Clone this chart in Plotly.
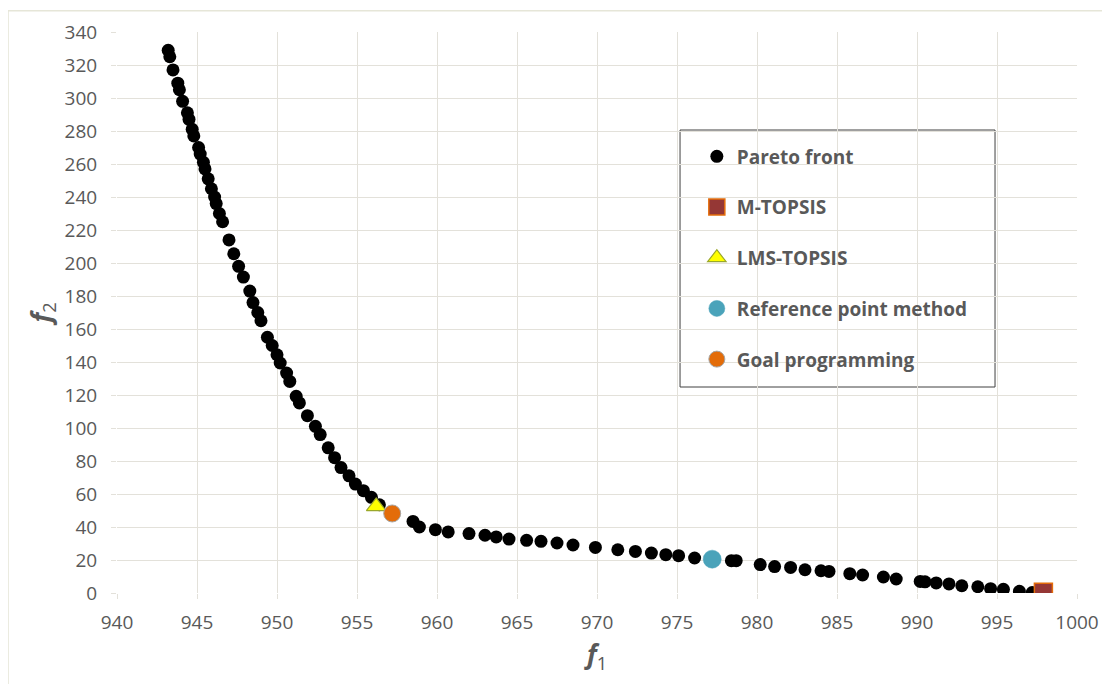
import plotly.graph_objects as go

# Pareto front (f1, f2)
pareto_f1 = [943.2, 943.3, 943.5, 943.8, 943.9, 944.1, 944.4, 944.5, 944.7, 944.8,
             945.1, 945.2, 945.4, 945.5, 945.7, 945.9, 946.1, 946.2, 946.4, 946.6,
             947.0, 947.3, 947.6, 947.9, 948.3, 948.5, 948.8, 949.0, 949.4, 949.7,
             950.0, 950.2, 950.6, 950.8, 951.2, 951.4, 951.9, 952.4, 952.7, 953.2,
             953.6, 954.0, 954.5, 954.9, 955.4, 955.9, 956.4, 958.5, 958.9, 959.9,
             960.7, 962.0, 963.0, 963.7, 964.5, 965.6, 966.5, 967.5, 968.5, 969.9,
             971.3, 972.4, 973.4, 974.3, 975.1, 976.1, 978.4, 978.7, 980.2, 981.1,
             982.1, 983.0, 984.0, 984.5, 985.8, 986.6, 987.9, 988.7, 990.2, 990.5,
             991.2, 992.0, 992.8, 993.8, 994.6, 995.4, 996.4, 997.2]
pareto_f2 = [328.9, 325.0, 317.0, 309.0, 305.0, 298.0, 291.0, 287.0, 281.0, 277.0,
             270.0, 266.0, 261.0, 257.0, 251.0, 245.0, 240.0, 236.0, 230.0, 225.0,
             214.0, 205.6, 198.0, 191.5, 183.0, 176.0, 170.0, 165.0, 155.0, 150.0,
             144.4, 139.4, 133.3, 128.2, 119.2, 115.2, 107.5, 101.0, 96.0, 88.0,
             82.0, 76.0, 71.0, 66.0, 62.0, 58.0, 53.5, 43.4, 40.0, 38.4,
             37.0, 36.0, 35.0, 34.0, 32.7, 31.9, 31.3, 30.3, 29.1, 27.6,
             26.2, 25.2, 24.2, 23.2, 22.6, 21.2, 19.6, 19.6, 17.2, 16.0,
             15.5, 14.1, 13.5, 13.1, 11.7, 10.9, 9.7, 8.5, 7.0, 6.8,
             6.1, 5.5, 4.4, 3.8, 2.6, 2.2, 1.0, 0.3]

# Selected solutions
mtopsis = (997.9, 0.4)
lmstopsis = (956.2, 52.5)
refpoint = (977.2, 20.5)
goalprog = (957.2, 48.2)

x_ticks = list(range(940, 1001, 5))
y_ticks = list(range(0, 341, 20))

GRID = "#E3E1DA"
TXT = "#595959"
FONT = "Open Sans"

fig = go.Figure()
fig.add_trace(go.Scatter(x=pareto_f1, y=pareto_f2, mode="markers", name="Pareto front",
                         legendgroup="a",
                         marker=dict(color="black", size=13, line=dict(width=0))))
fig.add_trace(go.Scatter(x=[mtopsis[0]], y=[mtopsis[1]], mode="markers", name="M-TOPSIS",
                         legendgroup="b",
                         marker=dict(symbol="square", color="#953735", size=18,
                                     line=dict(color="#E46C0A", width=1.5))))
fig.add_trace(go.Scatter(x=[lmstopsis[0]], y=[lmstopsis[1]], mode="markers", name="LMS-TOPSIS",
                         legendgroup="c",
                         marker=dict(symbol="triangle-up", color="#FFFF00", size=17,
                                     line=dict(color="#9AA82A", width=1.2))))
fig.add_trace(go.Scatter(x=[refpoint[0]], y=[refpoint[1]], mode="markers",
                         name="Reference point method", legendgroup="d",
                         marker=dict(color="#4AA3BA", size=18,
                                     line=dict(color="#4AA3BA", width=0.5))))
fig.add_trace(go.Scatter(x=[goalprog[0]], y=[goalprog[1]], mode="markers",
                         name="Goal programming", legendgroup="e",
                         marker=dict(color="#E36C09", size=17,
                                     line=dict(color="#A6A6A6", width=1))))

fig.update_xaxes(range=[940, 1000], tickvals=x_ticks, ticktext=[str(v) for v in x_ticks],
                 showgrid=True, gridcolor=GRID, gridwidth=1, zeroline=False,
                 showline=False, ticks="outside", ticklen=5, tickcolor=GRID,
                 tickfont=dict(family=FONT, size=19, color=TXT), ticklabelstandoff=7,
                 title=dict(text="<i><b>f</b></i><sub>1</sub>",
                            font=dict(family=FONT, size=26, color=TXT), standoff=12))
fig.update_yaxes(range=[0, 340], tickvals=y_ticks, ticktext=[str(v) for v in y_ticks],
                 showgrid=True, gridcolor=GRID, gridwidth=1, zeroline=False,
                 showline=False, ticks="outside", ticklen=5, tickcolor=GRID,
                 tickfont=dict(family=FONT, size=19, color=TXT), ticklabelstandoff=10,
                 title=dict(text="<i><b>f</b></i><sub>2</sub>",
                            font=dict(family=FONT, size=26, color=TXT), standoff=5))

# legend box and outer chart frame
fig.add_shape(type="rect", xref="paper", yref="paper", x0=0.5865, x1=0.9146,
              y0=0.3672, y1=0.8253, line=dict(color="#404040", width=1), fillcolor="white",
              layer="below")
fig.add_shape(type="rect", xref="paper", yref="paper", x0=-0.1135, x1=1.1,
              y0=-0.3, y1=1.038, line=dict(color="#E6E6D8", width=1.5), layer="below")

fig.update_layout(
    width=1102, height=676,
    margin=dict(l=109, r=33, t=24, b=91),
    paper_bgcolor="white", plot_bgcolor="white",
    showlegend=True,
    legend=dict(x=0.604, y=0.812, xanchor="left", yanchor="top",
                bgcolor="rgba(0,0,0,0)", borderwidth=0,
                tracegroupgap=23,
                font=dict(family=FONT, size=19, color=TXT, weight="bold")),
)

fig.write_html("out.html")
